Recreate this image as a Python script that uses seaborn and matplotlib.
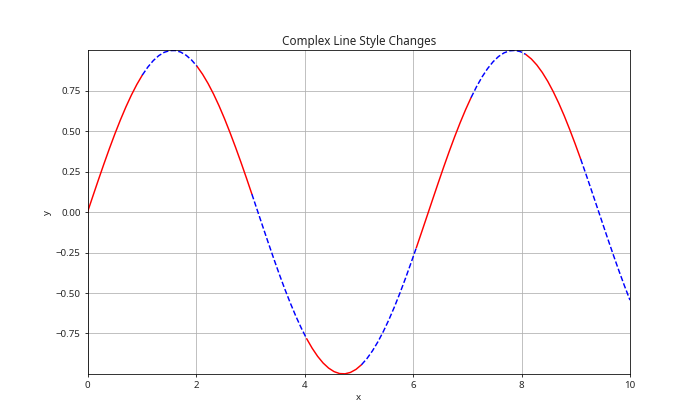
import numpy as np
import matplotlib
matplotlib.use("Agg")
import matplotlib.pyplot as plt
import seaborn as sns

y_values = [
    0.0000, 0.1008, 0.2006, 0.2984, 0.3931, 0.4839, 0.5696, 0.6496, 0.7229, 0.7889,
    0.8469, 0.8962, 0.9365, 0.9671, 0.9878, 0.9984, 0.9990, 0.9893, 0.9696, 0.9399,
    0.9007, 0.8523, 0.7952, 0.7300, 0.6575, 0.5779, 0.4922, 0.4022, 0.3084, 0.2111,
    0.1111, 0.0103, -0.0906, -0.1905, -0.2886, -0.3839, -0.4750, -0.5610, -0.6418, -0.7158,
    -0.7828, -0.8413, -0.8916, -0.9328, -0.9641, -0.9860, -0.9979, -0.9994, -0.9907, -0.9720,
    -0.9434, -0.9051, -0.8577, -0.8014, -0.7370, -0.6652, -0.5866, -0.5017, -0.4117, -0.3175,
    -0.2208, -0.1212, -0.0206, 0.0803, 0.1804, 0.2788, 0.3742, 0.4658, 0.5525, 0.6335,
    0.7081, 0.7758, 0.8355, 0.8869, 0.9290, 0.9617, 0.9843, 0.9970, 0.9997, 0.9921,
    0.9744, 0.9467, 0.9094, 0.8629, 0.8079, 0.7441, 0.6733, 0.5953, 0.5105, 0.4212,
    0.3278, 0.2308, 0.1315, 0.0309, -0.0700, -0.1704, -0.2688, -0.3646, -0.4567, -0.5440,
]
x_values = np.linspace(0, 10, len(y_values))
segment_size = 10
segment_colors = ["red", "blue"]
segment_styles = ["-", "--"]

sns.set_style("ticks")
plt.rcParams["font.family"] = ["Noto Sans", "DejaVu Sans"]

fig, ax = plt.subplots(figsize=(10, 6), dpi=70)
for i in range(0, len(y_values), segment_size):
    j = (i // segment_size) % 2
    sl = slice(i, i + segment_size + 1)
    sns.lineplot(x=x_values[sl], y=y_values[sl],
                 color=segment_colors[j], linestyle=segment_styles[j],
                 linewidth=1.5, ax=ax)

ax.margins(0)
ax.set_title("Complex Line Style Changes", fontsize=12)
ax.set_xlabel("x", fontsize=10)
ax.set_ylabel("y", fontsize=10)
ax.tick_params(labelsize=10, direction="out", length=3.5, color="black")
ax.grid(True, color="#b0b0b0", linewidth=0.8)
for s in ax.spines.values():
    s.set_color("black")
    s.set_linewidth(0.8)
fig.subplots_adjust(left=0.125, right=0.9, top=0.88, bottom=0.11)
fig.savefig("out.png", dpi=70)
